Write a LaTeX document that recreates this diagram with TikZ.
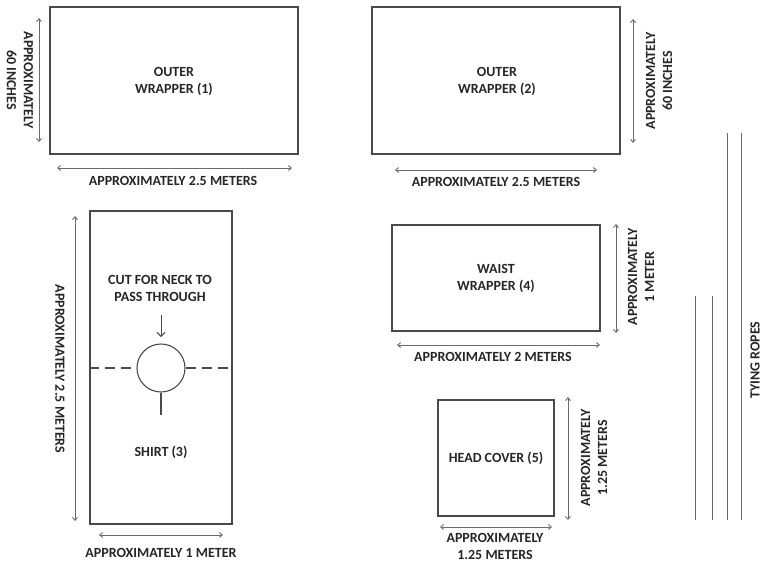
\documentclass[tikz,border=0pt]{standalone}
\usepackage{fontspec}
\setmainfont{Carlito}
\usetikzlibrary{arrows.meta}
\definecolor{lineC}{HTML}{4A4A4A}
\definecolor{dimC}{HTML}{6A6A6A}
\definecolor{txtC}{HTML}{262626}
\tikzset{
  piece/.style={draw=lineC, line width=1.1pt, inner sep=0pt},
  dimline/.style={draw=dimC, line width=0.9pt, {Straight Barb[length=3pt,width=5pt]}-{Straight Barb[length=3pt,width=5pt]}},
  lbl/.style={text=txtC, font=\bfseries\fontsize{14}{17}\selectfont, align=center, inner sep=0pt},
  rope/.style={draw=dimC, line width=1pt},
}
\begin{document}
\begin{tikzpicture}[x=1pt,y=-1pt]
\useasboundingbox (0,0) rectangle (763,563);
% Outer wrapper 1
\node[piece, minimum width=248pt, minimum height=147pt] (w1) at (174,80.5) {};
\node[lbl] (w1t) at (174,81) {OUTER\\WRAPPER (1)};
\draw[dimline] (39,18) -- (39,142);
\node[lbl, rotate=-90] (w1v) at (20,80) {APPROXIMATELY\\60 INCHES};
\draw[dimline] (57,168) -- (292,168);
\node[lbl] (w1h) at (173,181) {APPROXIMATELY 2.5 METERS};
% Outer wrapper 2
\node[piece, minimum width=248pt, minimum height=147pt] (w2) at (496,80.5) {};
\node[lbl] (w2t) at (497,81) {OUTER\\WRAPPER (2)};
\draw[dimline] (633,19) -- (633,143);
\node[lbl, rotate=90] (w2v) at (659,81) {APPROXIMATELY\\60 INCHES};
\draw[dimline] (395,170) -- (597,170);
\node[lbl] (w2h) at (496,182) {APPROXIMATELY 2.5 METERS};
% Shirt
\node[piece, minimum width=142pt, minimum height=313pt] (sh) at (161,367.5) {};
\node[lbl] (sht) at (160,288) {CUT FOR NECK TO\\PASS THROUGH};
\coordinate (arrS) at (161,315);
\coordinate (arrE) at (161,337);
\draw[draw=lineC, line width=0.9pt, -{Straight Barb[length=4pt,width=8pt]}] (arrS) -- (arrE);
\node[draw=lineC, line width=1.1pt, circle, minimum size=48pt, inner sep=0pt] (neck) at (161,368) {};
\draw[draw=lineC, line width=1.1pt, dash pattern=on 10pt off 6pt] (sh.west |- neck.west) -- (neck.west);
\draw[draw=lineC, line width=1.1pt, dash pattern=on 10pt off 6pt] (neck.east) -- (sh.east |- neck.east);
\coordinate (slitE) at (161,415);
\draw[draw=lineC, line width=1.1pt] (neck.south) -- (slitE);
\node[lbl] (shn) at (161,452) {SHIRT (3)};
\draw[dimline] (75,216) -- (75,521);
\node[lbl, rotate=-90] (shv) at (60,369) {APPROXIMATELY 2.5 METERS};
\draw[dimline] (99,535) -- (223,535);
\node[lbl] (shh) at (161,553) {APPROXIMATELY 1 METER};
% Waist wrapper
\node[piece, minimum width=208pt, minimum height=106pt] (ww) at (496,278) {};
\node[lbl] (wwt) at (496,278) {WAIST\\WRAPPER (4)};
\draw[dimline] (616,224) -- (616,333);
\node[lbl, rotate=90] (wwv) at (641,277) {APPROXIMATELY\\1 METER};
\draw[dimline] (397,345) -- (600,345);
\node[lbl] (wwh) at (493,357) {APPROXIMATELY 2 METERS};
% Head cover
\node[piece, minimum width=116pt, minimum height=116pt] (hc) at (496,458) {};
\node[lbl] (hct) at (496,458) {HEAD COVER (5)};
\draw[dimline] (568,397) -- (568,520);
\node[lbl, rotate=90] (hcv) at (594,458) {APPROXIMATELY\\1.25 METERS};
\draw[dimline] (440,527) -- (552,527);
\node[lbl] (hch) at (495,546) {APPROXIMATELY\\1.25 METERS};
% Ropes
\coordinate (r1t) at (695,296); \coordinate (r1b) at (695,520);
\coordinate (r2t) at (712,296); \coordinate (r2b) at (712,520);
\coordinate (r3t) at (727,133); \coordinate (r3b) at (727,520);
\coordinate (r4t) at (741,133); \coordinate (r4b) at (741,520);
\draw[rope] (r1t) -- (r1b);
\draw[rope] (r2t) -- (r2b);
\draw[rope] (r3t) -- (r3b);
\draw[rope] (r4t) -- (r4b);
\node[lbl, rotate=90] (ropes) at (755,360) {TYING ROPES};
\end{tikzpicture}
\end{document}
